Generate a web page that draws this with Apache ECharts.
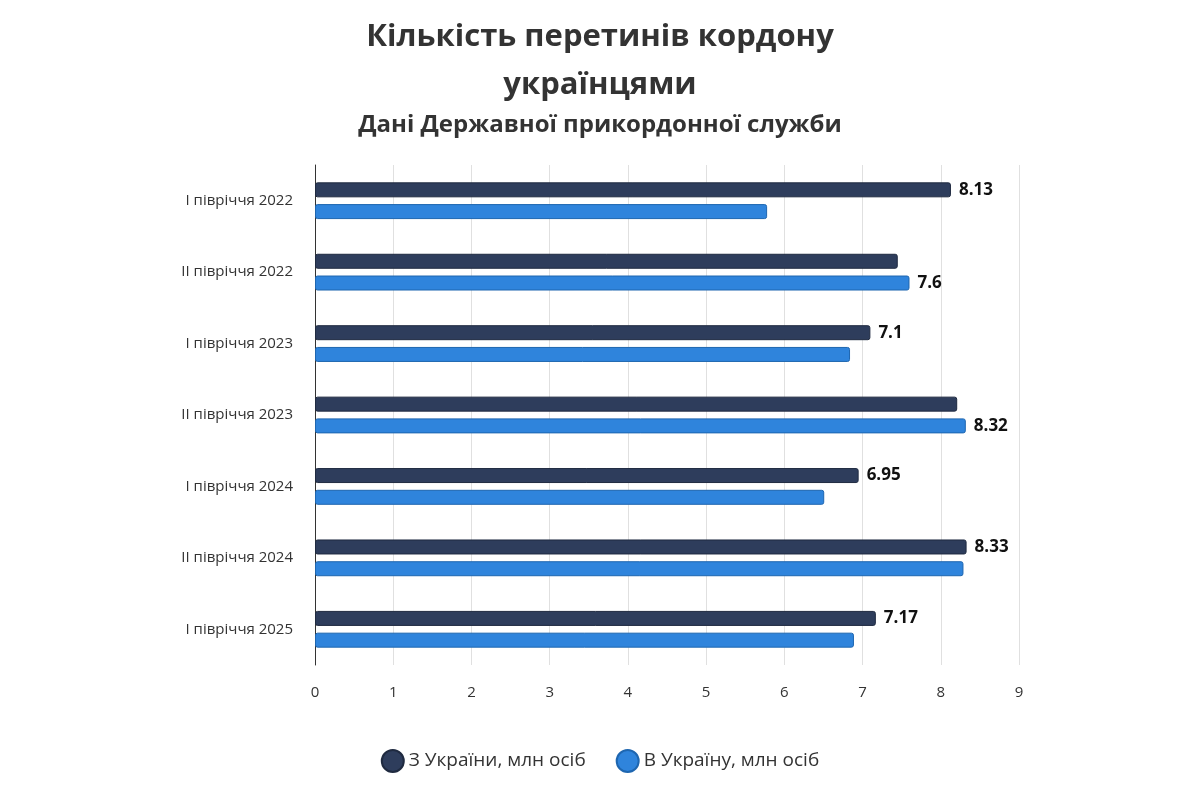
<!DOCTYPE html>
<html><head><meta charset="utf-8">
<script src="https://cdn.jsdelivr.net/npm/echarts@6/dist/echarts.min.js"></script>
<style>html,body{margin:0;background:#fff}#c{width:1200px;height:800px}</style>
</head><body><div id="c"></div>
<script>
const categories = ["I півріччя 2022","II півріччя 2022","I півріччя 2023","II півріччя 2023","I півріччя 2024","II півріччя 2024","I півріччя 2025"];
const fromUkraine = [8.13, 7.45, 7.1, 8.21, 6.95, 8.33, 7.17];
const toUkraine = [5.78, 7.6, 6.84, 8.32, 6.51, 8.29, 6.89];
const xTicks = [0,1,2,3,4,5,6,7,8,9];

const chart = echarts.init(document.getElementById('c'));
const font = "'Open Sans', 'Noto Sans', sans-serif";
function lbl(self, other) {
  return {show:true, position:'right', distance:8, fontSize:17, fontWeight:'bold', color:'#111', fontFamily:font,
    formatter: p => self[p.dataIndex] >= other[p.dataIndex] ? String(p.value) : ''};
}
chart.setOption({
  animation:false,
  title:[
    {text:'Кількість перетинів кордону\nукраїнцями', left:'center', top:8,
     textStyle:{fontSize:31, fontWeight:'bold', color:'#333', fontFamily:font, lineHeight:48}},
    {text:'Дані Державної прикордонної служби', left:'center', top:108,
     textStyle:{fontSize:24, fontWeight:'bold', color:'#333', fontFamily:font}}
  ],
  legend:{bottom:22, left:'center', icon:'circle', itemWidth:22, itemHeight:22, itemGap:30,
    textStyle:{fontSize:19, color:'#333', fontFamily:font}},
  grid:{left:315, right:181, top:165, bottom:135},
  xAxis:{type:'value', min:0, max:9, interval:1,
    axisLabel:{fontSize:15, color:'#333', margin:20, fontFamily:font, formatter:v=>xTicks.includes(v)?String(v):''},
    splitLine:{lineStyle:{color:'#e0e0e0'}}},
  yAxis:{type:'category', data:categories, inverse:true,
    axisLine:{show:true, lineStyle:{color:'#333'}}, axisTick:{show:false},
    axisLabel:{fontSize:15, color:'#333', margin:22, fontFamily:font}},
  series:[
    {name:'З України, млн осіб', type:'bar', data:fromUkraine, barWidth:15, barGap:'45%',
     itemStyle:{color:'#2e3d5c', borderColor:'#1f2a40', borderWidth:1, borderRadius:2}, label:lbl(fromUkraine,toUkraine)},
    {name:'В Україну, млн осіб', type:'bar', data:toUkraine, barWidth:15,
     itemStyle:{color:'#2f84dc', borderColor:'#1e66b0', borderWidth:1, borderRadius:2}, label:lbl(toUkraine,fromUkraine)}
  ]
});
</script></body></html>
